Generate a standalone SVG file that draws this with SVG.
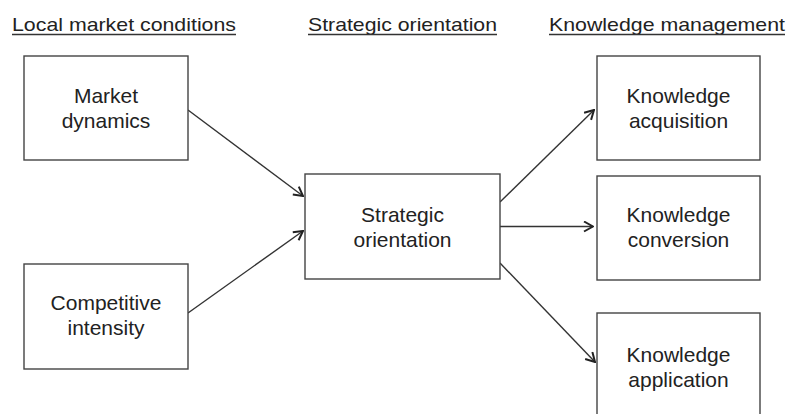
<svg xmlns="http://www.w3.org/2000/svg" width="789" height="414" viewBox="0 0 789 414">
<defs>
<style>
.box{fill:#fff;stroke:#444;stroke-width:1.4}
.t{font-family:"Liberation Sans",Arial,sans-serif;font-size:21px;fill:#222;text-anchor:middle}
.h{font-family:"Liberation Sans",Arial,sans-serif;font-size:19px;fill:#222}
.ul{stroke:#333;stroke-width:1.3}
.c{stroke:#333;stroke-width:1.4;fill:none}
</style>
<marker id="arr" viewBox="0 0 12 12" refX="11" refY="6" markerWidth="12" markerHeight="12" markerUnits="userSpaceOnUse" orient="auto">
<path d="M2,1 L11,6 L2,11" fill="none" stroke="#222" stroke-width="2"/>
</marker>
</defs>
<rect width="789" height="414" fill="#fff"/>
<g id="headers">
<text class="h" x="12" y="31" textLength="224" lengthAdjust="spacingAndGlyphs">Local market conditions</text>
<line class="ul" x1="12" y1="34.5" x2="236" y2="34.5"/>
<text class="h" x="308" y="31" textLength="189" lengthAdjust="spacingAndGlyphs">Strategic orientation</text>
<line class="ul" x1="308" y1="34.5" x2="497" y2="34.5"/>
<text class="h" x="549" y="31" textLength="236" lengthAdjust="spacingAndGlyphs">Knowledge management</text>
<line class="ul" x1="549" y1="34.5" x2="785" y2="34.5"/>
</g>
<g id="connectors">
<line class="c" x1="188" y1="110" x2="303" y2="196" marker-end="url(#arr)"/>
<line class="c" x1="188" y1="313" x2="303" y2="231" marker-end="url(#arr)"/>
<line class="c" x1="500" y1="202" x2="594" y2="110" marker-end="url(#arr)"/>
<line class="c" x1="500" y1="226.5" x2="593" y2="226.5" marker-end="url(#arr)"/>
<line class="c" x1="500" y1="263" x2="595" y2="362" marker-end="url(#arr)"/>
</g>
<g id="market-dynamics">
<rect class="box" x="24" y="56" width="164" height="104"/>
<text class="t" x="106" y="103">Market</text>
<text class="t" x="106" y="128">dynamics</text>
</g>
<g id="competitive-intensity">
<rect class="box" x="24" y="264" width="164" height="105"/>
<text class="t" x="106" y="310">Competitive</text>
<text class="t" x="106" y="335">intensity</text>
</g>
<g id="strategic-orientation">
<rect class="box" x="305" y="174" width="195" height="105"/>
<text class="t" x="402.5" y="222">Strategic</text>
<text class="t" x="402.5" y="247">orientation</text>
</g>
<g id="knowledge-acquisition">
<rect class="box" x="597" y="56" width="163" height="104"/>
<text class="t" x="678.5" y="103">Knowledge</text>
<text class="t" x="678.5" y="128">acquisition</text>
</g>
<g id="knowledge-conversion">
<rect class="box" x="597" y="176" width="163" height="104"/>
<text class="t" x="678.5" y="222">Knowledge</text>
<text class="t" x="678.5" y="247">conversion</text>
</g>
<g id="knowledge-application">
<rect class="box" x="597" y="313" width="163" height="104"/>
<text class="t" x="678.5" y="362">Knowledge</text>
<text class="t" x="678.5" y="387">application</text>
</g>
</svg>
